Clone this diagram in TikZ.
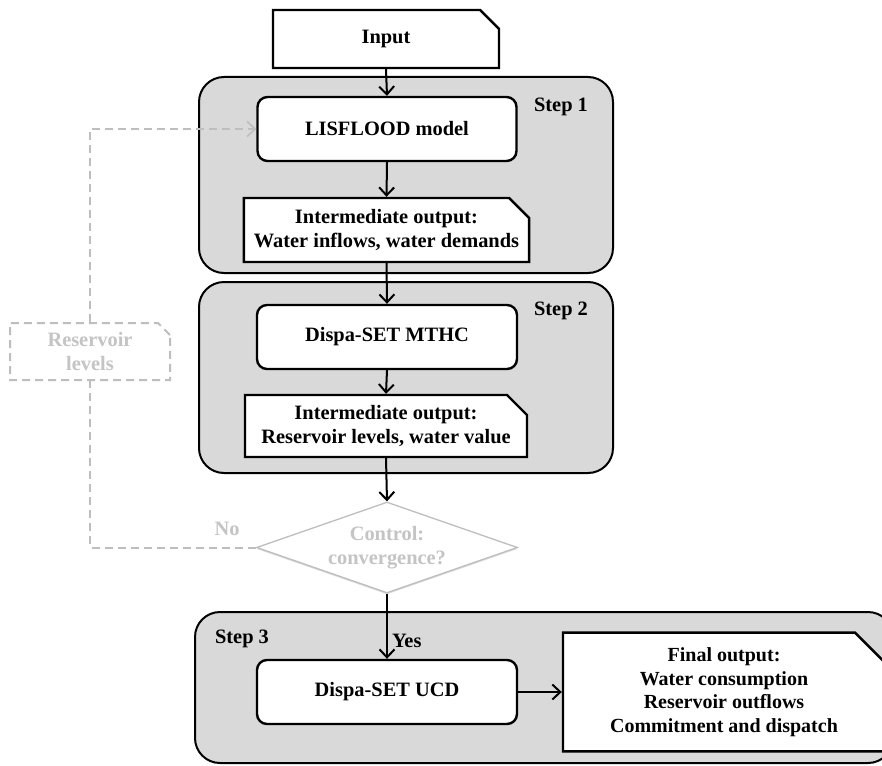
\documentclass[tikz,border=0pt]{standalone}
\usepackage{fontspec}
\setmainfont{Liberation Serif}
\usetikzlibrary{arrows.meta,shapes.misc,shapes.geometric,shadows}
\definecolor{stepgray}{RGB}{217,217,217}
\definecolor{softgray}{RGB}{196,196,196}
\definecolor{linegray}{RGB}{190,190,190}
\begin{document}
\begin{tikzpicture}[x=1pt,y=-1pt,
  font=\fontsize{20.4}{24}\selectfont\bfseries,
  container/.style={draw=black, line width=2pt, fill=stepgray, rounded corners=25pt, inner sep=0pt},
  procbox/.style={draw=black, line width=2.4pt, fill=white, rounded corners=10pt, inner sep=0pt, align=center},
  databox/.style={chamfered rectangle, chamfered rectangle corners=north east, chamfered rectangle xsep=10pt, chamfered rectangle ysep=10pt, draw=black, line width=2.4pt, fill=white, inner sep=0pt, align=center},
  flow/.style={draw=black, line width=2pt, -{Straight Barb[length=8pt,width=15pt,line width=2pt]}},
  feedback/.style={draw=linegray, line width=2pt, dash pattern=on 8pt off 5pt},
  steplabel/.style={inner sep=0pt},
]
\clip (0,0) rectangle (882,765);
\fill[white] (0,0) rectangle (882,765);

% containers
\node[container, minimum width=414pt, minimum height=196pt] (step1) at (406,175) {};
\node[container, minimum width=414pt, minimum height=191pt] (step2) at (406,377.5) {};
\node[container, minimum width=698pt, minimum height=151pt] (step3) at (544,687.5) {};

\node[steplabel] (s1lab) at (561,107) {Step 1};
\node[steplabel] (s2lab) at (561,311) {Step 2};
\node[steplabel] (s3lab) at (242,639) {Step 3};

% boxes
\node[databox, minimum width=226pt, minimum height=58pt] (input) at (386,39) {Input};
\node[procbox, minimum width=259pt, minimum height=64pt] (lis) at (387,129) {LISFLOOD model};
\node[databox, minimum width=283pt, minimum height=64pt] (int1) at (386.5,230) {Intermediate output:\\Water inflows, water demands};
\node[procbox, minimum width=260pt, minimum height=64pt] (mthc) at (387,337) {Dispa-SET MTHC};
\node[databox, minimum width=282pt, minimum height=62pt] (int2) at (386,426) {Intermediate output:\\Reservoir levels, water value};
\node[diamond, aspect=2.87, minimum width=261pt, minimum height=91pt, inner sep=0pt, draw=linegray, line width=1.3pt, fill=white, text=softgray, align=center,
      drop shadow={shadow xshift=0pt, shadow yshift=-1.5pt, fill=gray!45, opacity=0.6}] (ctrl) at (387,547.5) {Control:\\convergence?};
\node[procbox, minimum width=260pt, minimum height=64pt] (ucd) at (387,692) {Dispa-SET UCD};
\node[databox, chamfered rectangle xsep=15pt, chamfered rectangle ysep=15pt, minimum width=322pt, minimum height=106pt,
      font=\fontsize{20}{23.5}\selectfont\bfseries] (final) at (724,692) {Final output:\\Water consumption\\Reservoir outflows\\Commitment and dispatch};

% feedback box
\node[databox, draw=linegray, line width=2pt, dash pattern=on 8pt off 5pt, chamfered rectangle xsep=6pt, chamfered rectangle ysep=6pt, text=softgray, minimum width=160pt, minimum height=57pt] (resv) at (90,351.5) {Reservoir\\levels};

% labels
\node[text=softgray, inner sep=0pt] (nolab) at (227,529) {No};

% flows
\draw[flow] (input.south) -- (lis.north);
\draw[flow] (lis.south) -- (int1.north);
\draw[flow] (int1.south) -- (mthc.north);
\draw[flow] (mthc.south) -- (int2.north);
\draw[flow] (int2.south) -- (ctrl.north);
\draw[flow] (ctrl.south) -- node[right, inner sep=4pt, pos=0.72] (yeslab) {Yes} (ucd.north);
\draw[flow] (ucd.east) -- (final.west);

% feedback loop
\draw[feedback] (ctrl.west) -| (resv.south);
\draw[feedback, -{Straight Barb[length=8pt,width=15pt,line width=1.6pt]}] (resv.north) |- (lis.west);
\end{tikzpicture}
\end{document}
